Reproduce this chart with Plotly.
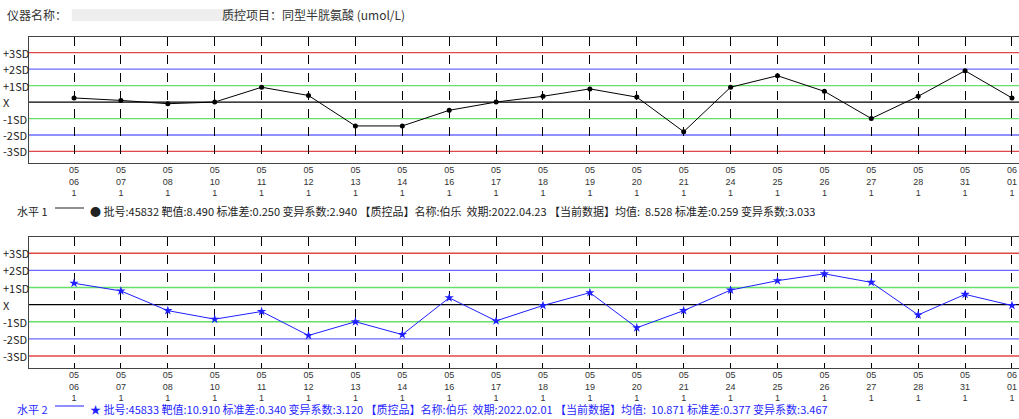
import plotly.graph_objects as go

dates = ["05<br>06<br>1", "05<br>07<br>1", "05<br>08<br>1", "05<br>10<br>1", "05<br>11<br>1",
         "05<br>12<br>1", "05<br>13<br>1", "05<br>14<br>1", "05<br>16<br>1", "05<br>17<br>1",
         "05<br>18<br>1", "05<br>19<br>1", "05<br>20<br>1", "05<br>21<br>1", "05<br>24<br>1",
         "05<br>25<br>1", "05<br>26<br>1", "05<br>27<br>1", "05<br>28<br>1", "05<br>31<br>1",
         "06<br>01<br>1"]
level1_sd = [0.25, 0.1, -0.1, 0.0, 0.9, 0.4, -1.45, -1.45, -0.5, 0.0, 0.35, 0.8, 0.3, -1.8,
             0.9, 1.6, 0.65, -1.0, 0.35, 1.9, 0.25]
level2_sd = [1.25, 0.8, -0.35, -0.85, -0.4, -1.8, -1.0, -1.75, 0.4, -0.95, -0.05, 0.7, -1.35,
             -0.35, 0.85, 1.4, 1.8, 1.3, -0.6, 0.6, -0.05]
sd_levels = [3, 2, 1, 0, -1, -2, -3]
sd_labels = ["+3SD", "+2SD", "+1SD", "X", "-1SD", "-2SD", "-3SD"]
sd_colors = ["#e04848", "#6a6aff", "#66e066", "#000000", "#66e066", "#6a6aff", "#e04848"]

legend1 = ("● 批号:45832 靶值:8.490 标准差:0.250 变异系数:2.940 【质控品】名称:伯乐  效期:2022.04.23 "
           "【当前数据】均值:  8.528 标准差:0.259 变异系数:3.033")
legend2 = ("★ 批号:45833 靶值:10.910 标准差:0.340 变异系数:3.120 【质控品】名称:伯乐  效期:2022.02.01 "
           "【当前数据】均值:  10.871 标准差:0.377 变异系数:3.467")

W, H = 1019, 419
FONT = "Noto Sans CJK SC"
x = list(range(len(dates)))

fig = go.Figure()
fig.add_trace(go.Scatter(x=x, y=level1_sd, mode="lines+markers", xaxis="x", yaxis="y",
                         line=dict(color="black", width=1), cliponaxis=False,
                         marker=dict(symbol="circle", size=5, color="black")))
fig.add_trace(go.Scatter(x=x, y=level2_sd, mode="lines+markers", xaxis="x2", yaxis="y2",
                         line=dict(color="#1f1fff", width=1), cliponaxis=False,
                         marker=dict(symbol="star", size=7, color="#1f1fff")))

for yname in ["y", "y2"]:
    for lv, col, lab in zip(sd_levels, sd_colors, sd_labels):
        fig.add_shape(type="line", xref="paper", yref=yname, x0=29 / W, x1=1, y0=lv, y1=lv,
                      line=dict(color=col, width=1.3), layer="below")
        fig.add_annotation(xref="paper", yref=yname, x=0.001, y=lv, text=lab, yanchor="middle",
                           showarrow=False, xanchor="left", font=dict(family=FONT, size=11, color="#222"))

axis_x = dict(range=[-0.96, 20.15], tickvals=x, ticktext=dates, showgrid=True, griddash="dash",
              gridcolor="black", gridwidth=1, showline=True, linecolor="#444", mirror=True,
              zeroline=False, tickfont=dict(family="Liberation Sans", size=9, color="#333"), ticks="",
              domain=[29 / W, 1], automargin=False, ticklabelstandoff=-2)
axis_y = dict(range=[-3.7, 3.95], showticklabels=False, showgrid=False, zeroline=False,
              showline=True, linecolor="#444", mirror=True, automargin=False)

fig.update_layout(
    width=W, height=H, margin=dict(l=0, r=0, t=0, b=0), showlegend=False,
    plot_bgcolor="white", paper_bgcolor="white",
    xaxis=dict(axis_x, anchor="y"),
    yaxis=dict(axis_y, domain=[1 - 163 / H, 1 - 37 / H], anchor="x"),
    xaxis2=dict(axis_x, anchor="y2"),
    yaxis2=dict(axis_y, domain=[1 - 368 / H, 1 - 237 / H], anchor="x2"),
)

fig.add_annotation(xref="paper", yref="paper", x=5 / W, y=1 - 14 / H, text="仪器名称：", yanchor="middle",
                   showarrow=False, xanchor="left", font=dict(family=FONT, size=12, color="#333"))
fig.add_annotation(xref="paper", yref="paper", x=70 / W, y=1 - 14 / H, text="██████████████", yanchor="middle",
                   showarrow=False, xanchor="left", font=dict(family=FONT, size=12, color="#eeeeee"))
fig.add_annotation(xref="paper", yref="paper", x=220 / W, y=1 - 14 / H, text="质控项目：同型半胱氨酸 (umol/L)",
                   yanchor="middle", showarrow=False, xanchor="left",
                   font=dict(family=FONT, size=12, color="#333"))

for label, text, col, ypx in [("水平 1", legend1, "#222", 211), ("水平 2", legend2, "#1f1fff", 409)]:
    fig.add_annotation(xref="paper", yref="paper", x=15 / W, y=1 - ypx / H, text=label, yanchor="middle",
                       showarrow=False, xanchor="left", font=dict(family=FONT, size=11, color=col))
    fig.add_shape(type="line", xref="paper", yref="paper", x0=55 / W, x1=84 / W,
                  y0=1 - (ypx - 3) / H, y1=1 - (ypx - 3) / H, line=dict(color=col, width=1))
    fig.add_annotation(xref="paper", yref="paper", x=88 / W, y=1 - ypx / H, text=text, yanchor="middle",
                       showarrow=False, xanchor="left", font=dict(family=FONT, size=11, color=col))

fig.write_html("out.html", config={"displayModeBar": False},
               post_script="document.body.style.margin='0';document.body.style.overflow='hidden';")
